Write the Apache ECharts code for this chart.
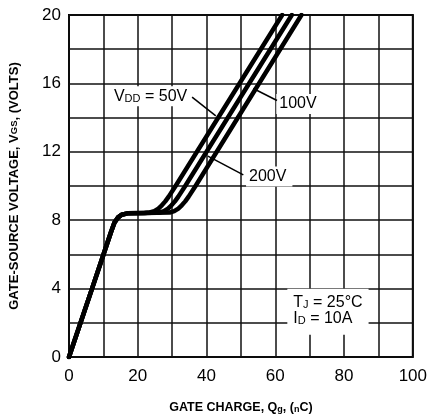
<!DOCTYPE html>
<html>
<head>
<meta charset="utf-8">
<script src="https://cdn.jsdelivr.net/npm/echarts@6/dist/echarts.min.js"></script>
<style>
  html, body { margin: 0; padding: 0; background: #fff; }
  #chart { width: 430px; height: 420px; }
</style>
</head>
<body>
<div id="chart"></div>
<script>
// Gate charge curves: [Qg (nC), VGS (V)] for each drain supply voltage
const vdd50 = [[0,0],[6.7,4],[12.2,7.3],[13.2,7.85],[14.2,8.15],[15.3,8.32],[17,8.4],[22,8.42],[23.5,8.45],[24.8,8.53],[26,8.68],[27,8.87],[28,9.1],[29,9.38],[31,10],[62,20]];
const vdd100 = [[0,0],[6.7,4],[12.2,7.3],[13.2,7.85],[14.2,8.15],[15.3,8.32],[17,8.4],[22,8.42],[26.3,8.45],[27.6,8.53],[28.8,8.68],[29.8,8.87],[30.8,9.1],[31.8,9.38],[33.8,10],[64.8,20]];
const vdd200 = [[0,0],[6.7,4],[12.2,7.3],[13.2,7.85],[14.2,8.15],[15.3,8.32],[17,8.4],[22,8.42],[29.3,8.45],[30.6,8.53],[31.8,8.68],[32.8,8.87],[33.8,9.1],[34.8,9.38],[36.8,10],[67.6,20]];

const xTicks = [0, 20, 40, 60, 80, 100];
const yTicks = [0, 4, 8, 12, 16, 20];

const FONT = '"Liberation Sans", Arial, Helvetica, sans-serif';

const chart = echarts.init(document.getElementById('chart'), null, { renderer: 'canvas' });

function curve(name, data) {
  return {
    name: name,
    type: 'line',
    data: data,
    smooth: false,
    symbol: 'none',
    lineStyle: { color: '#000', width: 4.5, join: 'round', cap: 'round' },
    z: 5
  };
}

chart.setOption({
  animation: false,
  backgroundColor: '#fff',
  grid: {
    left: 65, right: 16, top: 15, bottom: 63,
    show: true, borderColor: '#000', borderWidth: 2, backgroundColor: 'transparent'
  },
  xAxis: {
    type: 'value', min: 0, max: 100, interval: 10,
    axisLine: { show: false },
    axisTick: { show: false },
    splitLine: { show: true, lineStyle: { color: '#111', width: 1.5 } },
    axisLabel: {
      margin: 11, color: '#000', fontSize: 17, fontFamily: FONT,
      formatter: v => (xTicks.indexOf(v) >= 0 ? String(v) : '')
    },
    name: 'GATE CHARGE, Q{s|g}, ({s|n}C)',
    nameLocation: 'middle', nameGap: 44,
    nameTextStyle: {
      color: '#000', fontSize: 12.5, fontWeight: 'bold', fontFamily: FONT,
      rich: { s: { fontSize: 9, fontWeight: 'bold', fontFamily: FONT, color: '#000', verticalAlign: 'bottom' } }
    }
  },
  yAxis: {
    type: 'value', min: 0, max: 20, interval: 2,
    axisLine: { show: false },
    axisTick: { show: false },
    splitLine: { show: true, lineStyle: { color: '#111', width: 1.5 } },
    axisLabel: {
      margin: 8, color: '#000', fontSize: 17, fontFamily: FONT,
      formatter: v => (yTicks.indexOf(v) >= 0 ? String(v) : '')
    },
    name: 'GATE-SOURCE VOLTAGE, V{s|GS}, (VOLTS)',
    nameLocation: 'middle', nameGap: 48,
    nameTextStyle: {
      color: '#000', fontSize: 13, fontWeight: 'bold', fontFamily: FONT,
      rich: { s: { fontSize: 9.5, fontWeight: 'bold', fontFamily: FONT, color: '#000' } }
    }
  },
  series: [
    curve('50V', vdd50),
    curve('100V', vdd100),
    curve('200V', vdd200)
  ]
});

// Annotations placed in data coordinates
const px = p => chart.convertToPixel({ gridIndex: 0 }, p);

function leader(a, b) {
  const p = px(a), q = px(b);
  return { type: 'line', z: 20, shape: { x1: p[0], y1: p[1], x2: q[0], y2: q[1] },
           style: { stroke: '#000', lineWidth: 1.5 } };
}
function label(at, text, rich, pad) {
  const p = px(at);
  return { type: 'text', z: 15, x: p[0], y: p[1],
           style: { text: text, rich: rich, fill: '#000', font: '16px ' + FONT,
                    align: 'left', verticalAlign: 'middle',
                    backgroundColor: '#fff', padding: pad || [2, 3, 2, 3] } };
}

const big = { fontSize: 16, fontFamily: FONT, color: '#000' };
const small = { fontSize: 11, fontFamily: FONT, color: '#000', verticalAlign: 'bottom' };
const richStyle = { a: big, b: small };

chart.setOption({
  graphic: [
    label([12.2, 15.25], '{a|V}{b|DD}{a| = 50V}', richStyle),
    leader([35.8, 15.2], [42.7, 14.1]),
    label([60.3, 14.8], '{a|100V}', richStyle),
    leader([53.6, 15.7], [60.5, 15.0]),
    label([51.5, 10.55], '{a|200V}', richStyle, [2, 6, 2, 3]),
    leader([40.4, 11.75], [50.7, 10.65]),
    label([63.5, 2.65], '{a|T}{b|J}{a| = 25°C}\n{a|I}{b|D}{a| = 10A}', richStyle, [6, 6, 8, 6])
  ]
});
</script>
</body>
</html>
